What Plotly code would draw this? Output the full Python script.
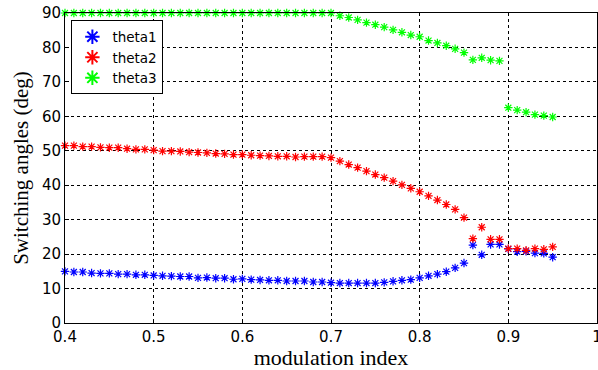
import plotly.graph_objects as go

m_index = [round(0.40 + 0.01 * i, 2) for i in range(56)]

theta1 = [15.0, 14.8, 14.8, 14.5, 14.4, 14.4, 14.2, 14.2, 14.0, 14.0,
          13.8, 13.7, 13.6, 13.5, 13.5, 13.1, 13.2, 13.0, 13.0, 12.7,
          12.8, 12.6, 12.5, 12.4, 12.4, 12.2, 12.2, 12.2, 11.9, 11.9,
          11.7, 11.6, 11.6, 11.6, 11.6, 11.6, 11.8, 12.1, 12.4, 12.6,
          13.1, 13.7, 14.2, 14.9, 16.0, 17.4, 22.6, 19.8, 22.8, 22.8,
          21.5, 20.7, 20.8, 20.3, 20.2, 19.1]

theta2 = [51.5, 51.5, 51.2, 51.2, 51.0, 50.9, 50.9, 50.6, 50.4, 50.4,
          50.2, 49.9, 49.9, 49.8, 49.6, 49.5, 49.4, 49.2, 49.1, 48.9,
          48.9, 48.7, 48.6, 48.5, 48.4, 48.4, 48.2, 48.3, 48.3, 48.3,
          48.0, 47.0, 46.0, 45.1, 44.1, 43.1, 42.2, 41.2, 40.1, 39.1,
          38.1, 36.9, 35.7, 34.4, 33.0, 30.6, 24.5, 27.8, 24.3, 24.3,
          21.6, 21.6, 21.1, 21.6, 21.4, 22.1]

theta3 = [90.0] * 31 + [89.2, 88.7, 88.0, 87.2, 86.6, 85.9, 85.1, 84.4, 83.6,
                        83.1, 82.0, 81.3, 80.5, 79.6, 78.5, 76.4, 77.0, 76.3, 76.1,
                        62.5, 61.8, 61.2, 60.5, 60.2, 59.8]

series = [("theta1", theta1, "#0000ff"),
          ("theta2", theta2, "#ff0000"),
          ("theta3", theta3, "#00ff00")]

x_ticks = [0.4, 0.5, 0.6, 0.7, 0.8, 0.9, 1.0]
x_tick_text = ["0.4", "0.5", "0.6", "0.7", "0.8", "0.9", "1"]
y_ticks = [0, 10, 20, 30, 40, 50, 60, 70, 80, 90]

fig = go.Figure()
for name, vals, col in series:
    fig.add_trace(go.Scatter(
        x=m_index, y=vals, mode="markers", name=name,
        marker=dict(symbol="asterisk", size=7, color=col,
                    line=dict(color=col, width=1.2)),
        cliponaxis=False,
    ))

axis_common = dict(
    showline=True, linecolor="black", linewidth=1, mirror=True,
    showgrid=True, gridcolor="black", gridwidth=1, griddash="dot",
    zeroline=False, ticks="inside", ticklen=4, tickcolor="black",
    automargin=False, ticklabeloverflow="allow",
    tickfont=dict(family="DejaVu Sans, Arial", size=15, color="black"),
)

fig.update_xaxes(range=[0.4, 1.0], tickvals=x_ticks, ticktext=x_tick_text,
                 title=dict(text="modulation index", standoff=1,
                            font=dict(family="Liberation Serif, Times New Roman", size=22, color="black")),
                 **axis_common)
fig.update_yaxes(range=[0, 90], tickvals=y_ticks,
                 title=dict(text="Switching angles (deg)", standoff=7,
                            font=dict(family="Liberation Serif, Times New Roman", size=21, color="black")),
                 **axis_common)

fig.update_layout(
    width=598, height=370,
    margin=dict(l=65, r=1, t=13, b=47),
    plot_bgcolor="white", paper_bgcolor="white",
    showlegend=True,
    legend=dict(x=0.012, y=0.976, xanchor="left", yanchor="top",
                bgcolor="white", bordercolor="black", borderwidth=1,
                font=dict(family="DejaVu Sans, Arial", size=13.5, color="black"),
                tracegroupgap=0, itemsizing="constant"),
)

fig.write_html("out.html", config={"displayModeBar": False},
               post_script="document.body.style.margin='0';document.body.style.overflow='hidden';")
